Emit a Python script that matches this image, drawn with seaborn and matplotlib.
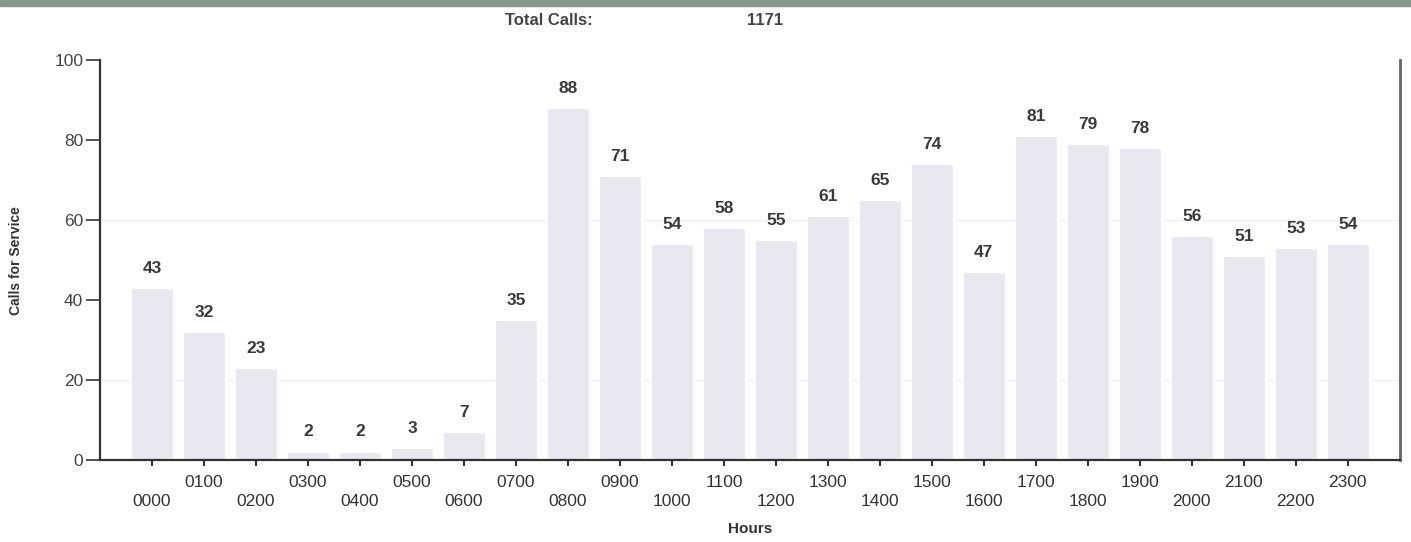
import pandas as pd
import matplotlib.pyplot as plt
import seaborn as sns

# data
hours = ["0000", "0100", "0200", "0300", "0400", "0500", "0600", "0700",
         "0800", "0900", "1000", "1100", "1200", "1300", "1400", "1500",
         "1600", "1700", "1800", "1900", "2000", "2100", "2200", "2300"]
calls = [43, 32, 23, 2, 2, 3, 7, 35, 88, 71, 54, 58, 55, 61, 65, 74,
         47, 81, 79, 78, 56, 51, 53, 54]
total_calls = 1171
y_ticks = [0, 20, 40, 60, 80, 100]

sns.set_style("white")
plt.rcParams['font.family'] = ['Liberation Sans', 'DejaVu Sans']

df = pd.DataFrame({"Hours": hours, "Calls": calls})

fig = plt.figure(figsize=(14.11, 5.42), dpi=100)
ax = fig.add_axes([0.0709, 0.1513, 0.9211, 0.7377])

sns.barplot(data=df, x="Hours", y="Calls", color="#E7E8F0", width=0.8,
            saturation=1, ax=ax)
ax.bar_label(ax.containers[0], padding=9, fontsize=12.5, fontweight="bold",
             color="#3a3a3a")

ax.set_xlim(-1, len(hours))
ax.set_ylim(0, 100)
ax.set_yticks(y_ticks)
ax.set_yticklabels([str(v) for v in y_ticks], fontsize=12.5, color="#444444")

# staggered hour labels: even hours on the lower row
ax.set_xticks(range(len(hours)))
ax.set_xticklabels([h if i % 2 else "\n" + h for i, h in enumerate(hours)],
                   fontsize=12.5, color="#333333", linespacing=1.35)

ax.tick_params(axis="y", direction="out", length=10, width=1.2,
               color="#333333", pad=2, left=True)
ax.tick_params(axis="x", direction="out", length=4, width=1.5,
               color="#333333", pad=7, bottom=True)

for side in ["left", "bottom", "right"]:
    ax.spines[side].set_visible(True)
    ax.spines[side].set_color("#333333")
    ax.spines[side].set_linewidth(1.6)
ax.spines["top"].set_visible(False)
ax.spines["right"].set_color("#666666")
ax.spines["right"].set_linewidth(2)

# faint horizontal rules seen in the chart
for yv in [20, 60]:
    ax.axhline(yv, color="#eeeeee", linewidth=0.8, zorder=0)

ax.set_xlabel("Hours", fontsize=11, fontweight="bold", color="#333333")
ax.set_ylabel("Calls for Service", fontsize=10, fontweight="bold",
              color="#333333")
ax.xaxis.set_label_coords(0.5, -0.155)
ax.yaxis.set_label_coords(-0.059, 0.5)

# header band and total
fig.patches.append(plt.Rectangle((0, 0.989), 1, 0.011, transform=fig.transFigure,
                                 color="#87968b", zorder=0))
fig.text(0.358, 0.962, "Total Calls:", fontsize=12, fontweight="bold",
         color="#444444", va="center")
fig.text(0.542, 0.962, str(total_calls), fontsize=12, fontweight="bold",
         color="#444444", va="center", ha="center")

fig.savefig("out.png", dpi=100)
